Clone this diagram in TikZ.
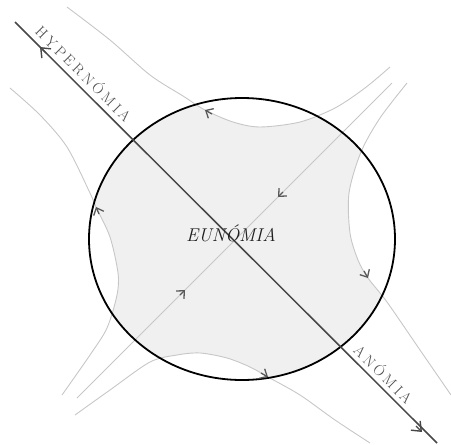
\documentclass[tikz,border=0pt]{standalone}
\usepackage{fontspec}
\usetikzlibrary{arrows.meta}
\newcommand{\lsp}{\kern3.2pt}

\begin{document}
\begin{tikzpicture}[
  x=1pt,y=-1pt,
  flow/.style={draw=black!22,line width=0.9pt},
  barb/.style={draw=black!65,line width=1.3pt,
    -{Straight Barb[length=6pt,width=11pt]}},
  bigbarb/.style={draw=black!72,line width=1.4pt,
    -{Straight Barb[length=8pt,width=13pt]}},
  mainline/.style={draw=black!72,line width=1.5pt},
  tag/.style={font=\fontsize{15}{15}\selectfont,
    text=black!70,inner sep=1pt}
]
\useasboundingbox (0,0) rectangle (451,445);

% zona sombreada dentro do circulo
\begin{scope}
  \clip (242,239) ellipse (153 and 141);
  \fill[black!6]
    plot[smooth] coordinates {(67,7) (110,40) (150,75) (183,96) (205,110)
      (233,122) (260,127) (300,122) (335,108) (365,88) (390,67)}
    -- plot[smooth] coordinates {(407,83) (380,118) (361,152) (349,193)
      (350,233) (358,260) (368,278) (387,302) (420,350) (451,395)}
    -- plot[smooth] coordinates {(370,443) (335,420) (300,395) (268,377)
      (250,367) (227,358) (200,353) (177,355) (150,362) (110,390) (75,415)}
    -- plot[smooth] coordinates {(62,395) (90,355) (107,328) (117,295)
      (118,273) (110,237) (96,207) (90,193) (67,147) (40,115) (10,88)}
    -- cycle;
\end{scope}

% linhas de fluxo
\draw[flow] plot[smooth] coordinates {(67,7) (110,40) (150,75) (183,96)
  (205,110) (233,122) (260,127) (300,122) (335,108) (365,88) (390,67)};
\draw[flow] plot[smooth] coordinates {(407,83) (380,118) (361,152) (349,193)
  (350,233) (358,260) (368,278) (387,302) (420,350) (451,395)};
\draw[flow] plot[smooth] coordinates {(370,443) (335,420) (300,395) (268,377)
  (250,367) (227,358) (200,353) (177,355) (150,362) (110,390) (75,415)};
\draw[flow] plot[smooth] coordinates {(62,395) (90,355) (107,328) (117,295)
  (118,273) (110,237) (96,207) (90,193) (67,147) (40,115) (10,88)};

\coordinate (sw) at (77,398);
\coordinate (ne) at (392,83);
\draw[flow] (sw) -- (ne);

% circulo
\draw[line width=1.8pt] (242,239) ellipse (153 and 141);

% eixo principal
\coordinate (hyp) at (15,22);
\coordinate (ano) at (437,443);
\draw[mainline] (hyp) -- (ano)
  node[tag,pos=0.143,sloped,above=4pt] (hyptag)
    {H\lsp Y\lsp P\lsp E\lsp R\lsp N\lsp Ó\lsp M\lsp I\lsp A}
  node[tag,pos=0.855,sloped,above=3pt] (anotag)
    {A\lsp N\lsp Ó\lsp M\lsp I\lsp A};

% setas
\draw[bigbarb] (46,53) -- (40,47);
\draw[bigbarb] (416,426) -- (422,432);
\draw[barb] (180,295) -- (185,290);
\draw[barb] (283,192) -- (278,197);
\draw[barb] (212,114) -- (205,110);
\draw[barb] (99,214) -- (96,207);
\draw[barb] (364,271) -- (368,278);
\draw[barb] (261,373) -- (268,377);

\node[font=\itshape\fontsize{18.5}{18.5}\selectfont,text=black!88] (eu)
  at (231,233) {EUNÓMIA};
\end{tikzpicture}
\end{document}
